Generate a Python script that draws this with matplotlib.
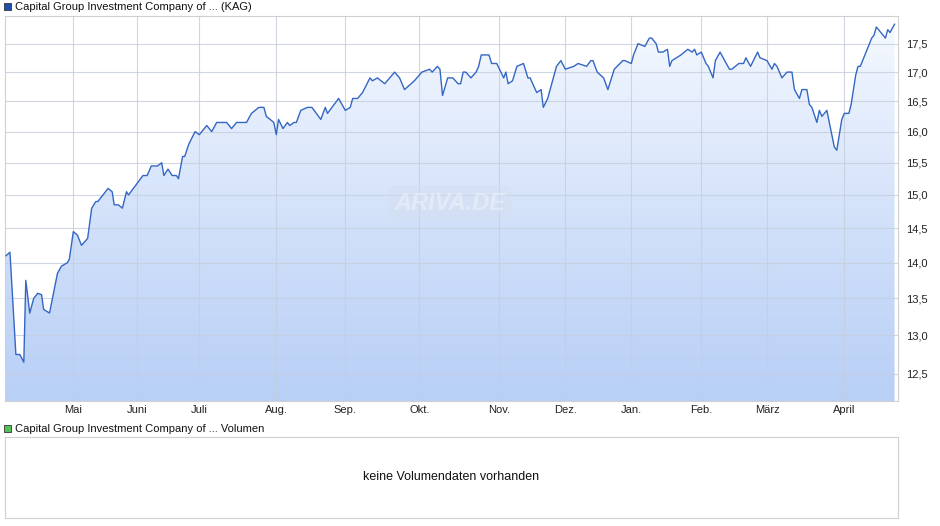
import numpy as np
import matplotlib
matplotlib.use("Agg")
import matplotlib.pyplot as plt
from matplotlib.patches import Rectangle
from matplotlib.colors import LinearSegmentedColormap

# day offsets from 1 May (start of "Mai")
days = [-34,-32,-29,-27,-25,-24,-22,-20,-18,-16,-15,-12,-8,-6,-3,-2,
        0,2,4,7,9,11,12,17,19,20,22,24,26,27,
        34,36,38,41,43,44,46,48,50,51,53,54,56,59,
        61,62,64,65,66,68,70,71,72,74,76,80,82,85,87,88,91,
        92,93,95,97,98,100,101,103,106,108,112,114,115,117,120,
        123,125,126,128,130,133,134,136,139,143,145,147,151,
        153,154,157,158,160,161,162,164,165,166,168,169,170,171,173,175,176,177,180,181,183,
        186,187,188,190,192,195,197,198,201,203,204,206,210,212,
        214,218,220,224,226,227,229,232,234,237,241,242,
        245,246,248,251,253,254,256,257,259,261,262,263,267,270,272,273,274,
        276,278,279,281,282,284,286,288,289,292,294,295,297,300,301,
        304,306,307,308,310,312,314,315,317,318,320,321,322,324,325,326,328,331,332,334,
        335,337,338,340,341,342,346,347,348,349,353,354,355,357]
values = [14.1,14.15,12.75,12.75,12.65,13.75,13.3,13.5,13.57,13.55,13.35,13.3,13.85,13.95,14.0,14.05,
          14.45,14.4,14.25,14.35,14.8,14.9,14.9,15.1,15.05,14.85,14.85,14.8,15.05,15.0,
          15.3,15.3,15.45,15.45,15.5,15.3,15.4,15.3,15.3,15.25,15.6,15.6,15.8,16.0,
          15.95,16.0,16.1,16.05,16.0,16.15,16.15,16.15,16.15,16.05,16.15,16.15,16.3,16.4,16.4,16.25,16.15,
          15.95,16.2,16.05,16.15,16.1,16.15,16.15,16.35,16.4,16.4,16.2,16.4,16.3,16.4,16.55,
          16.35,16.4,16.55,16.55,16.65,16.9,16.85,16.9,16.8,17.0,16.9,16.7,16.85,
          16.95,17.0,17.05,17.0,17.1,17.05,16.6,16.9,16.9,16.9,16.8,16.8,17.0,17.0,16.9,17.0,17.1,17.3,17.3,17.15,17.15,
          16.9,17.0,16.8,16.85,17.1,17.15,16.9,16.9,16.65,16.7,16.4,16.55,17.1,17.2,
          17.05,17.1,17.15,17.1,17.2,17.2,17.0,16.9,16.7,17.05,17.2,17.2,
          17.15,17.3,17.5,17.45,17.6,17.6,17.5,17.35,17.35,17.4,17.1,17.2,17.3,17.4,17.35,17.4,17.3,
          17.35,17.15,17.1,16.9,17.2,17.35,17.2,17.05,17.05,17.15,17.15,17.25,17.1,17.35,17.25,
          17.2,17.05,17.15,17.1,16.9,17.0,17.0,16.7,16.55,16.7,16.7,16.45,16.4,16.15,16.35,16.25,16.35,15.75,15.7,16.2,
          16.3,16.3,16.45,16.95,17.1,17.1,17.5,17.6,17.65,17.8,17.6,17.75,17.7,17.85]
month_labels = ["Mai","Juni","Juli","Aug.","Sep.","Okt.","Nov.","Dez.","Jan.","Feb.","März","April"]
month_days = [0,31,61,92,123,153,184,214,245,276,304,335]
y_ticks = [12.5,13.0,13.5,14.0,14.5,15.0,15.5,16.0,16.5,17.0,17.5]
title = "Capital Group Investment Company of ... (KAG)"
vol_title = "Capital Group Investment Company of ... Volumen"
no_vol = "keine Volumendaten vorhanden"

# layout: month start positions (figure px) for the piecewise time scale
anchor_days = [-34.5] + month_days + [358.5]
anchor_px = [5,73.3,136.7,199.3,276.3,345.3,419.3,499.3,565.3,631.3,701.3,767,844.3,898]

W, H = 940, 526
fig = plt.figure(figsize=(9.4,5.26), dpi=100)
plt.rcParams['font.family'] = ['Liberation Sans','DejaVu Sans']

ax = fig.add_axes([5/W, 1-401/H, 893/W, 385/H])
fwd = lambda d: np.interp(d, anchor_days, anchor_px)
inv = lambda p: np.interp(p, anchor_px, anchor_days)
ax.set_xscale('function', functions=(fwd, inv))
ax.set_yscale('log')
ymin, ymax = 12.16, 18.0
ax.set_xlim(anchor_days[0], anchor_days[-1])
ax.set_ylim(ymin, ymax)

# gradient fill (light at top, darker blue at bottom)
grad = np.linspace(0,1,256).reshape(-1,1)
cmap = LinearSegmentedColormap.from_list('g', ['#b8cff6', '#f7faff'])
im = ax.imshow(grad, aspect='auto', cmap=cmap, extent=[anchor_days[0], anchor_days[-1], ymax, ymin],
               origin='upper', zorder=1)
poly = ax.fill_between(days, values, ymin, color='none', zorder=0)
im.set_clip_path(poly.get_paths()[0], transform=ax.transData)
ax.set_xlim(anchor_days[0], anchor_days[-1]); ax.set_ylim(ymin, ymax)

ax.plot(days, values, color='#3467c4', lw=1.0, zorder=3)

ax.set_yticks(y_ticks)
ax.set_yticklabels([f"{v:.1f}".replace('.',',') for v in y_ticks])
ax.yaxis.set_minor_locator(matplotlib.ticker.NullLocator())
ax.yaxis.tick_right()
ax.set_xticks(month_days)
ax.set_xticklabels(month_labels)
ax.tick_params(length=0, labelsize=8, colors='#222222', pad=3)
ax.tick_params(axis='y', pad=6)
ax.grid(True, color='#c5cedd', lw=0.8, alpha=0.8, zorder=2)
ax.set_axisbelow(False)
for s in ax.spines.values():
    s.set_color('#d0d0d0'); s.set_linewidth(0.8)

# watermark
fig.text(450/W, 1-203/H, "ARIVA.DE", fontsize=17, fontweight='bold', style='italic',
         color='white', alpha=0.35, ha='center', va='center',
         bbox=dict(boxstyle='round,pad=0.25', fc='#d4deee', ec='none', alpha=0.45))

# legends
fig.patches.append(Rectangle((4/W, 1-10/H), 7/W, 7/H, transform=fig.transFigure,
                             fc='#1f4fb4', ec='#333333', lw=0.6))
fig.text(15/W, 1-6.5/H, title, fontsize=8, va='center', color='#111111')
fig.patches.append(Rectangle((4/W, 1-432/H), 7/W, 7/H, transform=fig.transFigure,
                             fc='#55c055', ec='#333333', lw=0.6))
fig.text(15/W, 1-428.5/H, vol_title, fontsize=8, va='center', color='#111111')

ax2 = fig.add_axes([5/W, 1-518/H, 893/W, 81/H])
ax2.set_xticks([]); ax2.set_yticks([])
for s in ax2.spines.values():
    s.set_color('#d0d0d0'); s.set_linewidth(0.8)
ax2.text(0.5, 0.5, no_vol, transform=ax2.transAxes, ha='center', va='center', fontsize=9, color='#111111')

fig.savefig('out.png', dpi=100)
